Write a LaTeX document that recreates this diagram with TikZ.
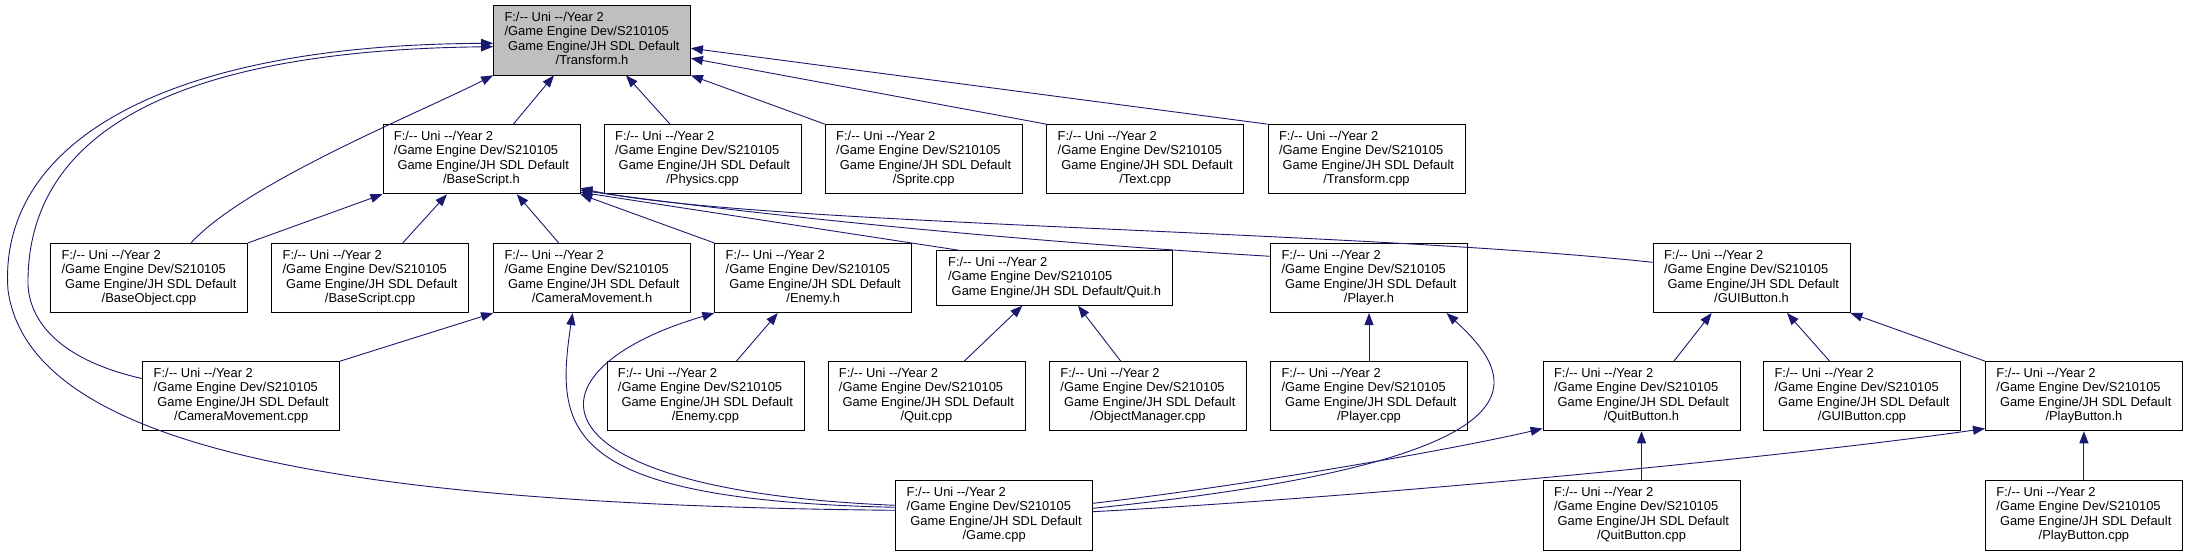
\documentclass[tikz,border=0pt]{standalone}
\usepackage{fontspec}
\setmainfont{Liberation Sans}
\usepackage{xcolor}
\usepackage{tikz}
\usetikzlibrary{arrows.meta}
\definecolor{edgeblue}{RGB}{25, 25, 112}
\definecolor{focusgrey}{RGB}{191, 191, 191}

\newcommand{\incpath}[1]{\begin{tabular}{@{}l@{}}F:/-{}- Uni -{}-/Year 2\\/Game Engine Dev/S210105\\\multicolumn{1}{@{}c@{}}{\ Game Engine/JH SDL Default}\\\multicolumn{1}{@{}c@{}}{/#1}\end{tabular}}

\tikzset{
  file/.style={draw=black, fill=white, line width=0.8pt, minimum width=197pt, minimum height=69.3pt, inner sep=0pt},
  focus/.style={file, fill=focusgrey},
  dep/.style={draw=edgeblue, line width=0.9pt, -{Triangle[length=12pt, width=9pt]}}
}

\begin{document}
\begin{tikzpicture}[x=1pt, y=-1pt, every node/.style={font=\fontsize{12.9}{14.5}\selectfont}]
    \useasboundingbox (0, 0) rectangle (2188, 556);

    % Header under study
    \node[focus] (transform) at (592, 40.3) {\incpath{Transform.h}};

    % Direct includers
    \node[file] (basescript) at (481.4, 159.2) {\incpath{BaseScript.h}};
    \node[file] (physics) at (702.6, 159.2) {\incpath{Physics.cpp}};
    \node[file] (sprite) at (923.7, 159.2) {\incpath{Sprite.cpp}};
    \node[file] (textcpp) at (1145.2, 159.2) {\incpath{Text.cpp}};
    \node[file] (transformcpp) at (1366.5, 159.2) {\incpath{Transform.cpp}};

    % Second row
    \node[file] (baseobject) at (149, 278) {\incpath{BaseObject.cpp}};
    \node[file] (basescriptcpp) at (370.1, 278) {\incpath{BaseScript.cpp}};
    \node[file] (camh) at (592, 278) {\incpath{CameraMovement.h}};
    \node[file] (enemyh) at (813.2, 278) {\incpath{Enemy.h}};
    \node[file, minimum width=236pt, minimum height=54.6pt] (quith) at (1054.6, 278) {\begin{tabular}{@{}l@{}}F:/-{}- Uni -{}-/Year 2\\/Game Engine Dev/S210105\\\multicolumn{1}{@{}c@{}}{\ Game Engine/JH SDL Default/Quit.h}\end{tabular}};
    \node[file] (playerh) at (1369, 278) {\incpath{Player.h}};
    \node[file] (guih) at (1751.5, 278) {\incpath{GUIButton.h}};

    % Third row
    \node[file] (camcpp) at (241.2, 396.2) {\incpath{CameraMovement.cpp}};
    \node[file] (enemycpp) at (705.4, 396.2) {\incpath{Enemy.cpp}};
    \node[file] (quitcpp) at (926.4, 396.2) {\incpath{Quit.cpp}};
    \node[file] (objmgr) at (1147.9, 396.2) {\incpath{ObjectManager.cpp}};
    \node[file] (playercpp) at (1369, 396.2) {\incpath{Player.cpp}};
    \node[file] (quitbtnh) at (1641.5, 396.2) {\incpath{QuitButton.h}};
    \node[file] (guicpp) at (1862, 396.2) {\incpath{GUIButton.cpp}};
    \node[file] (playbtnh) at (2083.9, 396.2) {\incpath{PlayButton.h}};

    % Bottom row
    \node[file] (game) at (994.2, 515.3) {\incpath{Game.cpp}};
    \node[file] (quitbtncpp) at (1641.5, 515.3) {\incpath{QuitButton.cpp}};
    \node[file] (playbtncpp) at (2083.9, 515.3) {\incpath{PlayButton.cpp}};

    % Includes of Transform.h
    \draw[dep] ([xshift=32pt]basescript.north) -- ([xshift=-38pt]transform.south);
    \draw[dep] ([xshift=-32.6pt]physics.north) -- ([xshift=34pt]transform.south);
    \draw[dep] (sprite.north west) -- (transform.south east);
    \draw[dep] (textcpp.north west) -- ([yshift=-18pt]transform.east);
    \draw[dep] (transformcpp.north west) -- ([yshift=-8pt]transform.east);
    \draw[dep] ([xshift=42pt]baseobject.north) .. controls +(55,-60) and +(-75,38) .. (transform.south west);
    \draw[dep] ([yshift=17.6pt]camcpp.west) .. controls (60,360) and (30,322) .. (28,285) .. controls (26,120) and (200,50) .. ([yshift=-6.4pt]transform.west);
    \draw[dep] ([yshift=5pt]game.west) .. controls (350,505) and (30,450) .. (8,290) .. controls (-2,150) and (150,45) .. ([yshift=-3pt]transform.west);

    % Includes of BaseScript.h
    \draw[dep] (baseobject.north east) -- (basescript.south west);
    \draw[dep] ([xshift=32.6pt]basescriptcpp.north) -- ([xshift=-34.4pt]basescript.south);
    \draw[dep] ([xshift=-33.3pt]camh.north) -- ([xshift=35.4pt]basescript.south);
    \draw[dep] (enemyh.north west) -- (basescript.south east);
    \draw[dep] ([xshift=-95.3pt]quith.north) -- ([yshift=2pt]basescript.south east);
    \draw[dep] ([yshift=21.7pt]playerh.west) .. controls (1000,240) and (750,214) .. ([yshift=4pt]basescript.south east);
    \draw[dep] ([yshift=15.7pt]guih.west) .. controls (1350,230) and (750,225) .. ([yshift=6pt]basescript.south east);

    % Includes of CameraMovement.h and Enemy.h
    \draw[dep] (camcpp.north east) -- (camh.south west);
    \draw[dep] ([yshift=8pt]game.west) .. controls (560,500) and (555,430) .. ([xshift=-19.4pt]camh.south);
    \draw[dep] ([xshift=31pt]enemycpp.north) -- ([xshift=-35.4pt]enemyh.south);
    \draw[dep] ([yshift=10pt]game.west) .. controls (520,490) and (520,370) .. (enemyh.south west);

    % Includes of Quit.h and Player.h
    \draw[dep] ([xshift=37.8pt]quitcpp.north) -- ([xshift=-32.3pt]quith.south);
    \draw[dep] ([xshift=-27.2pt]objmgr.north) -- ([xshift=23.4pt]quith.south);
    \draw[dep] (playercpp) -- (playerh);
    \draw[dep] ([yshift=7pt]game.east) .. controls (1560,460) and (1520,380) .. ([xshift=77.5pt]playerh.south);

    % Includes of GUIButton.h
    \draw[dep] ([xshift=32.4pt]quitbtnh.north) -- ([xshift=-39.9pt]guih.south);
    \draw[dep] ([xshift=-32.4pt]guicpp.north) -- ([xshift=35.5pt]guih.south);
    \draw[dep] (playbtnh.north west) -- (guih.south east);

    % Includes of the buttons
    \draw[dep] (quitbtncpp) -- (quitbtnh);
    \draw[dep] ([yshift=12pt]game.east) .. controls (1250,485) and (1450,450) .. ([yshift=2.7pt]quitbtnh.south west);
    \draw[dep] (playbtncpp) -- (playbtnh);
    \draw[dep] ([yshift=3.6pt]game.east) .. controls (1400,495) and (1800,455) .. ([yshift=2.7pt]playbtnh.south west);
\end{tikzpicture}
\end{document}
